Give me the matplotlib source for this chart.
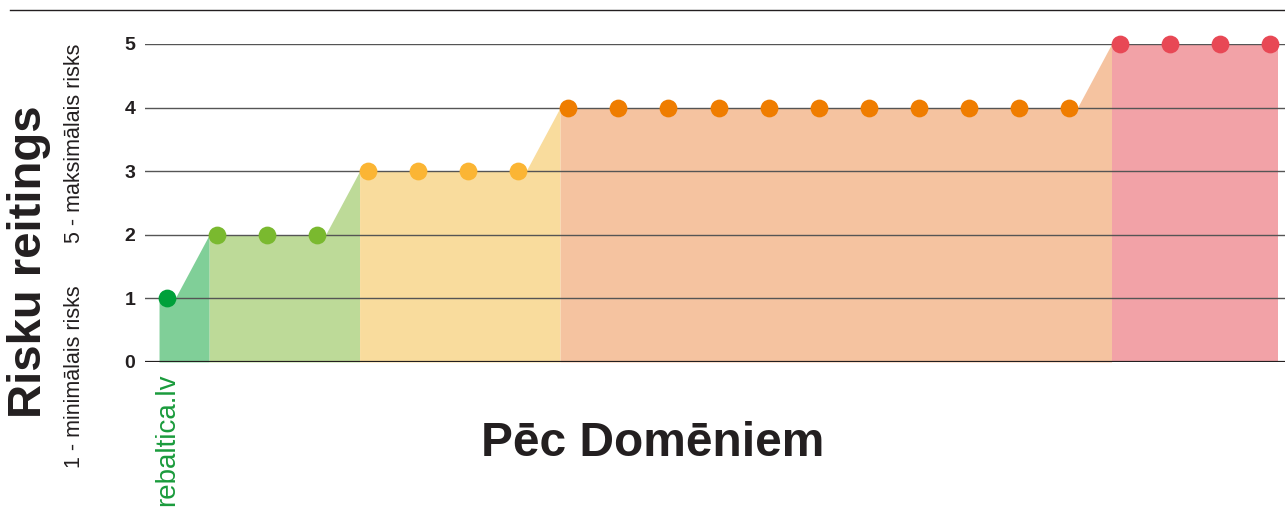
import numpy as np
import matplotlib.pyplot as plt
from matplotlib.lines import Line2D

plt.rcParams['font.family'] = ['Liberation Sans', 'DejaVu Sans']

# data
values = [1, 2, 2, 2, 3, 3, 3, 3, 4, 4, 4, 4, 4, 4, 4, 4, 4, 4, 4, 5, 5, 5, 5]
labels = ['rebaltica.lv'] + [''] * 22
dot_colors = {1: '#00a03a', 2: '#7ab92f', 3: '#fbb534', 4: '#ef7d00', 5: '#e84855'}
fill_colors = {1: '#80cf98', 2: '#bdda98', 3: '#f9dc9d', 4: '#f5c3a0', 5: '#f2a2a7'}

fig = plt.figure(figsize=(12.85, 5.08), dpi=100)
ax = fig.add_axes([145 / 1285, 1 - 362 / 508, 1 - 145 / 1285, 318 / 508])

x = np.arange(len(values))
off = 0.16

# group runs of equal value
groups = []
start = 0
for i in range(1, len(values) + 1):
    if i == len(values) or values[i] != values[start]:
        groups.append((start, i - 1, values[start]))
        start = i

for k, (a, b, v) in enumerate(groups):
    xs = [a - off, b + off]
    ys = [v, v]
    if k + 1 < len(groups):
        na, nb, nv = groups[k + 1]
        xs.append(na - off)
        ys.append(nv)
    ax.fill_between(xs, ys, 0, color=fill_colors[v], lw=0, zorder=1)

for y in range(1, 6):
    ax.axhline(y, color='#555555', lw=1, zorder=2)
ax.axhline(0, color='#231f20', lw=1.6, zorder=2)

for xi, v in zip(x, values):
    ax.plot(xi, v, 'o', color=dot_colors[v], ms=12.8, mec='none', zorder=3, clip_on=False)

ax.set_xlim(-0.44, 22.30)
ax.set_ylim(0, 5)
ax.set_yticks(range(6))
ax.set_yticklabels([str(i) for i in range(6)], fontsize=14, fontweight='bold',
                   color='#231f20')
ax.tick_params(axis='y', length=0, pad=7)
ax.set_xticks(x)
ax.set_xticklabels(labels, rotation=90, fontsize=20, color='#1a9b3c', va='top')
ax.tick_params(axis='x', length=0, pad=8)
for s in ax.spines.values():
    s.set_visible(False)

fig.add_artist(Line2D([10 / 1285, 1], [1 - 10 / 508, 1 - 10 / 508], color='#231f20', lw=1))

fig.text(29 / 1285, 1 - 262 / 508, 'Risku reitings', rotation=90, fontsize=34,
         fontweight='bold', ha='center', va='center', color='#231f20')
fig.text(75 / 1285, 1 - 377 / 508, '1 - minimālais risks', rotation=90, fontsize=15.5,
         ha='center', va='center', color='#231f20')
fig.text(75 / 1285, 1 - 143 / 508, '5 - maksimālais risks', rotation=90, fontsize=15.5,
         ha='center', va='center', color='#231f20')
fig.text(653 / 1285, 1 - 444 / 508, 'Pēc Domēniem', fontsize=34.5, fontweight='bold',
         ha='center', va='center', color='#231f20')

fig.savefig('out.png', dpi=100)
